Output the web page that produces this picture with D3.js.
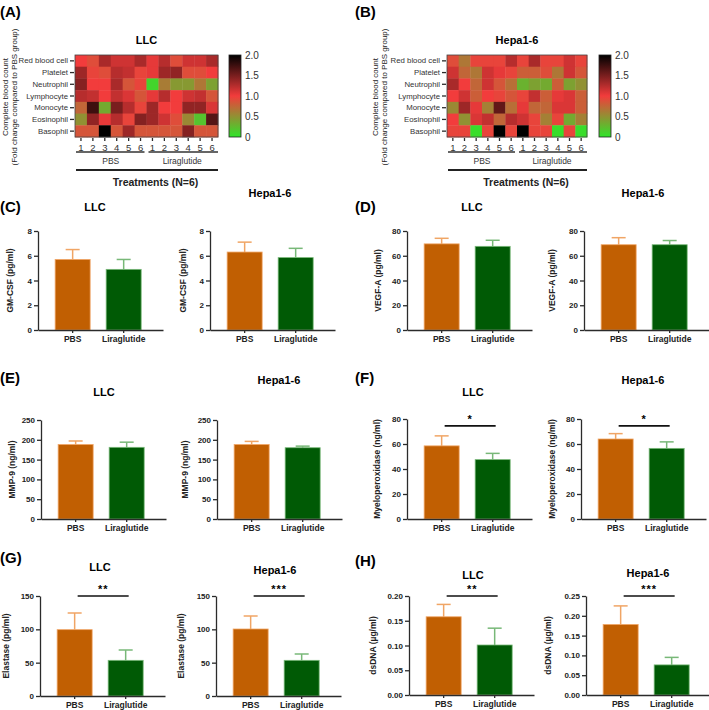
<!DOCTYPE html>
<html>
<head>
<meta charset="utf-8">
<script src="https://cdn.jsdelivr.net/npm/d3@7"></script>
<style>
  body { margin: 0; background: #fff; }
  svg { font-family: "Liberation Sans", Arial, sans-serif; }
  .axis path, .axis line { stroke: #2b2b2b; stroke-width: 1.3; }
  .axis text { fill: #222; font-weight: bold; font-size: 8px; }
  .hm text { font-weight: normal; fill: #333; }
</style>
</head>
<body>
<svg id="fig" width="709" height="710"></svg>
<script>
// ---- data ----
var cellTypes = ["Red blood cell", "Platelet", "Neutrophil", "Lymphocyte", "Monocyte", "Eosinophil", "Basophil"];
var mice = ["1", "2", "3", "4", "5", "6", "1", "2", "3", "4", "5", "6"];
var groups = ["PBS", "Liraglutide"];

// fold change vs PBS, rows = cellTypes, cols = mice (PBS 1-6, Liraglutide 1-6)
var llcHeat = [
  [1.0, 0.9, 1.3, 1.15, 1.15, 1.3, 1.05, 1.25, 0.9, 1.15, 1.15, 1.3],
  [1.35, 0.95, 0.9, 1.25, 1.2, 0.95, 1.05, 1.35, 1.4, 0.9, 0.9, 1.0],
  [1.45, 1.0, 1.0, 1.3, 0.85, 0.95, 0.1, 0.62, 0.45, 0.45, 0.65, 0.4],
  [1.25, 1.2, 1.0, 1.2, 1.1, 0.85, 1.05, 1.25, 1.0, 1.15, 1.2, 0.85],
  [0.75, 1.75, 0.35, 1.5, 1.25, 0.95, 1.35, 1.0, 1.0, 1.4, 1.4, 1.1],
  [0.5, 1.4, 1.05, 1.25, 0.95, 1.45, 1.35, 1.15, 0.9, 0.55, 0.2, 1.65],
  [0.85, 0.85, 2.0, 0.85, 1.35, 0.85, 0.85, 0.85, 0.85, 1.45, 0.85, 0.85]
];
var hepaHeat = [
  [0.9, 0.65, 0.95, 0.95, 0.95, 1.25, 0.95, 1.3, 0.95, 0.95, 1.15, 0.95],
  [1.15, 0.75, 0.65, 1.15, 1.05, 0.95, 0.8, 0.8, 0.9, 0.65, 1.15, 0.85],
  [1.3, 1.0, 0.75, 1.15, 0.85, 0.7, 0.3, 0.4, 0.35, 0.8, 0.4, 0.5],
  [1.0, 1.15, 0.8, 1.0, 0.95, 0.85, 0.95, 1.2, 0.8, 1.05, 1.1, 0.8],
  [0.55, 1.35, 1.05, 0.6, 1.6, 0.7, 1.05, 0.75, 0.75, 1.1, 1.1, 0.8],
  [1.0, 0.5, 1.1, 1.2, 0.75, 1.25, 1.15, 0.95, 0.6, 0.95, 0.35, 0.6],
  [0.95, 0.95, 0.05, 0.95, 2.0, 0.95, 2.0, 0.95, 0.95, 0.05, 0.95, 0.05]
];
var heatTicks = [0, 0.5, 1.0, 1.5, 2.0];

// bar data: mean and error (PBS, Liraglutide)
var gmcsfLLC = [5.7, 4.9],     gmcsfLLCErr = [0.8, 0.8];
var gmcsfHepa = [6.3, 5.85],   gmcsfHepaErr = [0.8, 0.75];
var vegfLLC = [69.6, 67.6],    vegfLLCErr = [4.5, 4.9];
var vegfHepa = [68.9, 68.9],   vegfHepaErr = [5.7, 3.4];
var mmp9LLC = [188, 181],      mmp9LLCErr = [9, 13];
var mmp9Hepa = [188, 180],     mmp9HepaErr = [8, 4];
var mpoLLC = [58.5, 47.5],     mpoLLCErr = [8, 5];
var mpoHepa = [64, 56.5],      mpoHepaErr = [4.3, 5.2];
var elastaseLLC = [99.5, 53.5],  elastaseLLCErr = [25, 15.5];
var elastaseHepa = [100.5, 53.5], elastaseHepaErr = [19.5, 9.5];
var dsdnaLLC = [0.158, 0.101], dsdnaLLCErr = [0.025, 0.034];
var dsdnaHepa = [0.178, 0.076], dsdnaHepaErr = [0.047, 0.019];

var svg = d3.select("#fig");

var heatColor = d3.scaleLinear()
  .domain([0, 1, 2])
  .range(["#2fe52a", "#f23c3c", "#000000"])
  .interpolate(d3.interpolateRgb);

function panelLabel(txt, x, y) {
  svg.append("text").attr("x", x).attr("y", y)
    .attr("font-size", 15).attr("font-weight", "bold").text(txt);
}

function heatmap(o) {
  var g = svg.append("g");
  var x = d3.scaleBand().domain(d3.range(12)).range([o.x0, o.x1]);
  var y = d3.scaleBand().domain(cellTypes).range([o.y0, o.y1]);

  o.data.forEach(function(row, i) {
    g.selectAll(null).data(row).enter().append("rect")
      .attr("x", function(d, j) { return x(j); })
      .attr("y", y(cellTypes[i]))
      .attr("width", x.bandwidth() + 0.4)
      .attr("height", y.bandwidth() + 0.4)
      .attr("fill", function(d) { return heatColor(d); });
  });
  g.append("rect").attr("x", o.x0).attr("y", o.y0)
    .attr("width", o.x1 - o.x0).attr("height", o.y1 - o.y0)
    .attr("fill", "none").attr("stroke", "#444").attr("stroke-width", 0.8);

  var ya = g.append("g").attr("class", "axis hm")
    .attr("transform", "translate(" + (o.x0 - 1) + ",0)")
    .call(d3.axisLeft(y).tickSize(4).tickSizeOuter(0).tickPadding(2));
  ya.select(".domain").remove();
  ya.selectAll("text").style("font-size", "7.8px");

  var xa = g.append("g").attr("class", "axis hm")
    .attr("transform", "translate(0," + (o.y1 + 1) + ")")
    .call(d3.axisBottom(x).tickSize(3).tickSizeOuter(0).tickFormat(function(d) { return mice[d]; }));
  xa.select(".domain").remove();
  xa.selectAll("text").style("font-size", "9.5px");

  // group brackets
  var ly = o.y1 + 15;
  var mid = x(6);
  g.append("line").attr("x1", o.x0 + 1).attr("x2", mid - 2).attr("y1", ly).attr("y2", ly)
    .attr("stroke", "#333").attr("stroke-width", 1.5);
  g.append("line").attr("x1", mid + 2).attr("x2", o.x1).attr("y1", ly).attr("y2", ly)
    .attr("stroke", "#333").attr("stroke-width", 1.5);
  g.append("text").attr("x", (o.x0 + mid) / 2).attr("y", ly + 12).attr("text-anchor", "middle")
    .attr("font-size", 8.5).attr("fill", "#333").text(groups[0]);
  g.append("text").attr("x", (mid + o.x1) / 2).attr("y", ly + 12).attr("text-anchor", "middle")
    .attr("font-size", 8.5).attr("fill", "#333").text(groups[1]);
  g.append("line").attr("x1", o.x0 + 1).attr("x2", o.x1).attr("y1", ly + 18).attr("y2", ly + 18)
    .attr("stroke", "#222").attr("stroke-width", 1.8);
  g.append("text").attr("x", (o.x0 + o.x1) / 2 + 9).attr("y", ly + 34).attr("text-anchor", "middle")
    .attr("font-size", 10.5).attr("font-weight", "bold").attr("fill", "#222").text("Treatments (N=6)");

  // title
  g.append("text").attr("x", (o.x0 + o.x1) / 2).attr("y", 44).attr("text-anchor", "middle")
    .attr("font-size", 11).attr("font-weight", "bold").text(o.title);

  // y title
  var cy = 97;
  g.append("text").attr("transform", "translate(" + o.ytx + "," + cy + ") rotate(-90)")
    .attr("text-anchor", "middle").attr("font-size", 8).attr("fill", "#222").text("Complete blood count");
  g.append("text").attr("transform", "translate(" + (o.ytx + 9) + "," + cy + ") rotate(-90)")
    .attr("text-anchor", "middle").attr("font-size", 8).attr("fill", "#222").text("(Fold change compared to PBS group)");

  // colour bar
  var gid = "grad" + o.id;
  var grad = svg.append("defs").append("linearGradient").attr("id", gid)
    .attr("x1", 0).attr("y1", 1).attr("x2", 0).attr("y2", 0);
  d3.range(0, 2.01, 0.1).forEach(function(v) {
    grad.append("stop").attr("offset", v / 2).attr("stop-color", heatColor(v));
  });
  var cs = d3.scaleLinear().domain([0, 2]).range([o.y1, o.y0]);
  g.append("rect").attr("x", o.cbx).attr("y", o.y0).attr("width", 12).attr("height", o.y1 - o.y0)
    .attr("fill", "url(#" + gid + ")").attr("stroke", "#222").attr("stroke-width", 0.8);
  var ca = g.append("g").attr("class", "axis hm")
    .attr("transform", "translate(" + (o.cbx + 12) + ",0)")
    .call(d3.axisRight(cs).tickValues(heatTicks).tickSize(0).tickPadding(4)
      .tickFormat(function(d) { return d === 0 ? "0" : d3.format(".1f")(d); }));
  ca.select(".domain").remove();
  ca.selectAll("text").style("font-size", "10px");
}

function barPanel(o) {
  var g = svg.append("g");
  var x = d3.scaleBand().domain(groups).range([o.left, o.left + 125])
    .paddingInner(0.314).paddingOuter(0.382).align(0.44);
  var y = d3.scaleLinear().domain([0, o.max]).range([o.bottom, o.top]);
  var fills = ["#c15f02", "#005a05"];
  var edges = ["#f0a565", "#78b878"];
  var rows = groups.map(function(k, i) { return { k: k, v: o.mean[i], e: o.err[i], i: i }; });

  // error bars first (behind bars)
  rows.forEach(function(d) {
    var cx = x(d.k) + x.bandwidth() / 2;
    g.append("line").attr("x1", cx).attr("x2", cx).attr("y1", y(d.v)).attr("y2", y(d.v + d.e))
      .attr("stroke", edges[d.i]).attr("stroke-width", 1.5);
    g.append("line").attr("x1", cx - 7).attr("x2", cx + 7).attr("y1", y(d.v + d.e)).attr("y2", y(d.v + d.e))
      .attr("stroke", edges[d.i]).attr("stroke-width", 1.5);
  });
  g.selectAll(null).data(rows).enter().append("rect")
    .attr("x", function(d) { return x(d.k); })
    .attr("y", function(d) { return y(d.v); })
    .attr("width", x.bandwidth())
    .attr("height", function(d) { return o.bottom - y(d.v); })
    .attr("fill", function(d) { return fills[d.i]; })
    .attr("stroke", function(d) { return edges[d.i]; })
    .attr("stroke-width", 0.8);

  g.append("g").attr("class", "axis")
    .attr("transform", "translate(" + o.left + ",0)")
    .call(d3.axisLeft(y).tickValues(o.ticks).tickSize(4).tickSizeOuter(0).tickPadding(2)
      .tickFormat(o.fmt || d3.format("d")));
  var xa = g.append("g").attr("class", "axis")
    .attr("transform", "translate(0," + o.bottom + ")")
    .call(d3.axisBottom(x).tickSize(3).tickSizeOuter(0).tickPadding(3));
  xa.selectAll("text").style("font-size", "8.5px");

  g.append("text").attr("transform", "translate(" + o.ylx + "," + ((o.top + o.bottom) / 2) + ") rotate(-90)")
    .attr("dy", "0.35em").attr("text-anchor", "middle").attr("font-size", 8.5).attr("font-weight", "bold")
    .attr("fill", "#222").text(o.ylab);

  g.append("text").attr("x", o.tx).attr("y", o.ty).attr("text-anchor", "middle")
    .attr("dy", "0.35em").attr("font-size", 11).attr("font-weight", "bold").text(o.title);

  if (o.sig) {
    var c1 = x(groups[0]) + x.bandwidth() / 2 + 3, c2 = x(groups[1]) + x.bandwidth() / 2 + 3;
    var sy = y(o.sigAt);
    g.append("line").attr("x1", c1).attr("x2", c2).attr("y1", sy).attr("y2", sy)
      .attr("stroke", "#111").attr("stroke-width", 1.6);
    g.append("text").attr("x", (c1 + c2) / 2).attr("y", sy - 3).attr("text-anchor", "middle")
      .attr("font-size", 11).attr("font-weight", "bold").attr("letter-spacing", 1).text(o.sig);
  }
}

// ---- heatmaps ----
panelLabel("(A)", 0, 17);
panelLabel("(B)", 355, 17);
heatmap({ id: "A", data: llcHeat, title: "LLC", x0: 75, x1: 218, y0: 55, y1: 137, cbx: 229, ytx: 8 });
heatmap({ id: "B", data: hepaHeat, title: "Hepa1-6", x0: 447, x1: 587, y0: 55, y1: 137, cbx: 599, ytx: 378 });

// ---- bar panels ----
panelLabel("(C)", 0, 212);
panelLabel("(D)", 355, 212);
panelLabel("(E)", 0, 383);
panelLabel("(F)", 355, 383);
panelLabel("(G)", 0, 563);
panelLabel("(H)", 355, 566);

var t8 = [0, 2, 4, 6, 8], t80 = [0, 20, 40, 60, 80], t250 = [0, 50, 100, 150, 200, 250], t150 = [0, 50, 100, 150];
var f2 = d3.format(".2f");

barPanel({ left: 38, top: 231, bottom: 330, max: 8, ticks: t8, mean: gmcsfLLC, err: gmcsfLLCErr,
  ylab: "GM-CSF (pg/ml)", ylx: 10, title: "LLC", tx: 95, ty: 207 });
barPanel({ left: 210, top: 231, bottom: 330, max: 8, ticks: t8, mean: gmcsfHepa, err: gmcsfHepaErr,
  ylab: "GM-CSF (pg/ml)", ylx: 183, title: "Hepa1-6", tx: 270, ty: 193 });
barPanel({ left: 407, top: 231, bottom: 330, max: 80, ticks: t80, mean: vegfLLC, err: vegfLLCErr,
  ylab: "VEGF-A (pg/ml)", ylx: 378, title: "LLC", tx: 472, ty: 207 });
barPanel({ left: 584, top: 231, bottom: 330, max: 80, ticks: t80, mean: vegfHepa, err: vegfHepaErr,
  ylab: "VEGF-A (pg/ml)", ylx: 552, title: "Hepa1-6", tx: 643, ty: 193 });

barPanel({ left: 41, top: 420, bottom: 519, max: 250, ticks: t250, mean: mmp9LLC, err: mmp9LLCErr,
  ylab: "MMP-9 (ng/ml)", ylx: 12, title: "LLC", tx: 104, ty: 392 });
barPanel({ left: 217, top: 420, bottom: 519, max: 250, ticks: t250, mean: mmp9Hepa, err: mmp9HepaErr,
  ylab: "MMP-9 (ng/ml)", ylx: 185, title: "Hepa1-6", tx: 279, ty: 380 });
barPanel({ left: 407, top: 419, bottom: 519, max: 80, ticks: t80, mean: mpoLLC, err: mpoLLCErr,
  ylab: "Myeloperoxidase (ng/ml)", ylx: 377, title: "LLC", tx: 473, ty: 392, sig: "*", sigAt: 74.5 });
barPanel({ left: 581, top: 419, bottom: 519, max: 80, ticks: t80, mean: mpoHepa, err: mpoHepaErr,
  ylab: "Myeloperoxidase (ng/ml)", ylx: 552, title: "Hepa1-6", tx: 643, ty: 380, sig: "*", sigAt: 74.5 });

barPanel({ left: 40, top: 596, bottom: 696, max: 150, ticks: t150, mean: elastaseLLC, err: elastaseLLCErr,
  ylab: "Elastase (pg/ml)", ylx: 6, title: "LLC", tx: 100, ty: 567, sig: "**", sigAt: 150 });
barPanel({ left: 216, top: 596, bottom: 696, max: 150, ticks: t150, mean: elastaseHepa, err: elastaseHepaErr,
  ylab: "Elastase (pg/ml)", ylx: 181, title: "Hepa1-6", tx: 275, ty: 570, sig: "***", sigAt: 150 });
barPanel({ left: 409, top: 596, bottom: 695, max: 0.20, ticks: [0, 0.05, 0.10, 0.15, 0.20], fmt: f2,
  mean: dsdnaLLC, err: dsdnaLLCErr, ylab: "dsDNA (\u00b5g/ml)", ylx: 373, title: "LLC", tx: 473, ty: 575,
  sig: "**", sigAt: 0.20 });
barPanel({ left: 586, top: 596, bottom: 695, max: 0.25, ticks: [0, 0.05, 0.10, 0.15, 0.20, 0.25], fmt: f2,
  mean: dsdnaHepa, err: dsdnaHepaErr, ylab: "dsDNA (\u00b5g/ml)", ylx: 548, title: "Hepa1-6", tx: 648, ty: 573,
  sig: "***", sigAt: 0.25 });
</script>
</body>
</html>
